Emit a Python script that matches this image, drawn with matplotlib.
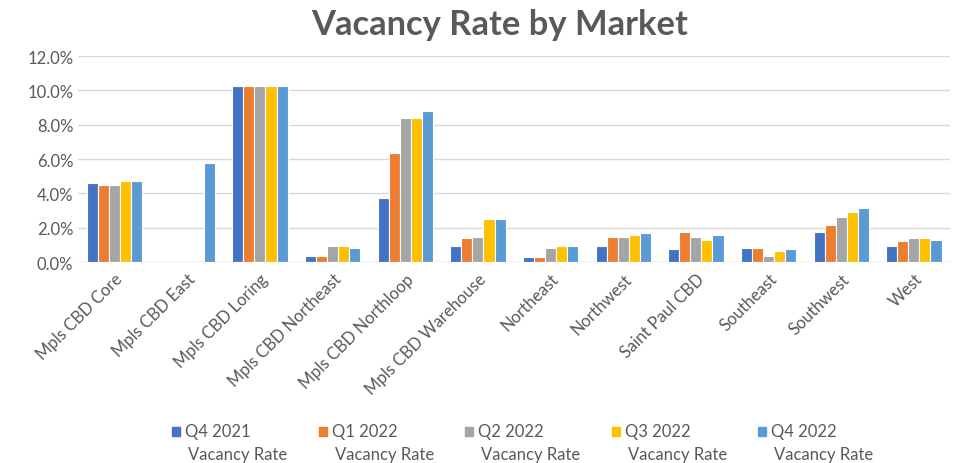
import matplotlib
matplotlib.use("Agg")
import matplotlib.pyplot as plt
from matplotlib.patches import Rectangle
import numpy as np
from matplotlib.ticker import FuncFormatter

markets = ["Mpls CBD Core", "Mpls CBD East", "Mpls CBD Loring", "Mpls CBD Northeast",
           "Mpls CBD Northloop", "Mpls CBD Warehouse", "Northeast", "Northwest",
           "Saint Paul CBD", "Southeast", "Southwest", "West"]
series_quarters = ["Q4 2021", "Q1 2022", "Q2 2022", "Q3 2022", "Q4 2022"]
series_suffix = "Vacancy Rate"
q4_2021 = [4.6, 0.0, 10.25, 0.35, 3.75, 0.92, 0.28, 0.92, 0.75, 0.82, 1.76, 0.92]
q1_2022 = [4.5, 0.0, 10.25, 0.35, 6.35, 1.40, 0.28, 1.48, 1.76, 0.82, 2.15, 1.21]
q2_2022 = [4.5, 0.0, 10.25, 0.92, 8.4, 1.48, 0.82, 1.48, 1.48, 0.35, 2.60, 1.39]
q3_2022 = [4.7, 0.0, 10.25, 0.92, 8.4, 2.52, 0.92, 1.58, 1.31, 0.64, 2.89, 1.39]
q4_2022 = [4.7, 5.8, 10.25, 0.82, 8.78, 2.52, 0.92, 1.68, 1.58, 0.74, 3.16, 1.29]
colors = ["#4472C4", "#ED7D31", "#A5A5A5", "#FFC000", "#5B9BD5"]

data = [q4_2021, q1_2022, q2_2022, q3_2022, q4_2022]

plt.rcParams['font.family'] = ['Lato', 'DejaVu Sans']
W, H = 955, 464
fig = plt.figure(figsize=(W / 100, H / 100), dpi=100)
ax = fig.add_axes([0.082, 0.433, 0.913, 0.444])

x = np.arange(len(markets))
w = 0.152
for i, (vals, c, q) in enumerate(zip(data, colors, series_quarters)):
    ax.bar(x + (i - 2) * w, np.array(vals) / 100.0, width=w, color=c,
           edgecolor="white", linewidth=0.8, label=f"{q} {series_suffix}", zorder=3)

ax.set_xlim(-0.5, len(markets) - 0.5)
ax.set_ylim(0, 0.12)
ax.set_yticks(np.arange(0, 0.121, 0.02))
ax.yaxis.set_major_formatter(FuncFormatter(lambda v, p: f"{v*100:.1f}%"))
ax.grid(axis="y", color="#D9D9D9", linewidth=1, zorder=0)
for s in ax.spines.values():
    s.set_visible(False)
ax.axhline(0, color="#D9D9D9", linewidth=1, zorder=1)
ax.tick_params(axis="both", length=0, colors="#595959", labelsize=12)
ax.set_xticks(x)
ax.set_xticklabels(markets, rotation=45, ha="right", rotation_mode="anchor")
ax.tick_params(axis="x", pad=6)

fig.text(500 / W, 1 - 35 / H, "Vacancy Rate by Market", fontsize=24.8,
         fontweight="bold", color="#595959", ha="center", va="baseline")

# Manual legend (marker aligned with the first text line, as in the original)
x0, dx = 172, 146.5
for i, (c, q) in enumerate(zip(colors, series_quarters)):
    px = x0 + i * dx
    fig.patches.append(Rectangle((px / W, 1 - 437 / H), 8 / W, 9 / H,
                                 transform=fig.transFigure, color=c))
    fig.text((px + 13) / W, 1 - 432 / H, q, fontsize=12, color="#595959",
             va="center", ha="left")
    fig.text((px + 16) / W, 1 - 455 / H, series_suffix, fontsize=12,
             color="#595959", va="center", ha="left")

fig.savefig("out.png", dpi=100)
